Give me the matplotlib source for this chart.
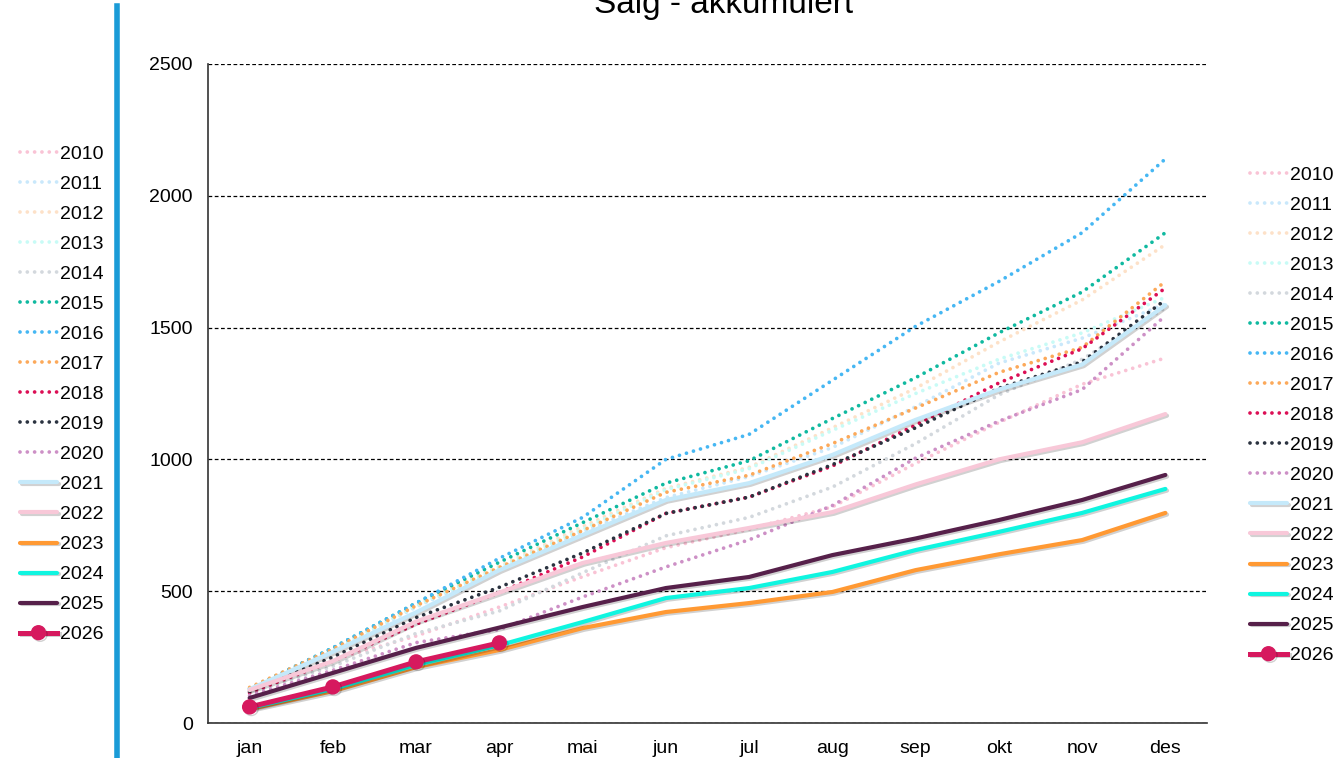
import matplotlib
matplotlib.use("Agg")
import matplotlib.pyplot as plt
import matplotlib.patheffects as pe
from matplotlib.lines import Line2D

plt.rcParams['font.family'] = ['Liberation Sans', 'DejaVu Sans']

months = ['jan', 'feb', 'mar', 'apr', 'mai', 'jun', 'jul', 'aug', 'sep', 'okt', 'nov', 'des']

# accumulated sales per year
s2010 = [115, 240, 330, 440, 555, 665, 735, 820, 985, 1140, 1285, 1385]
s2011 = [120, 270, 440, 585, 725, 855, 935, 1045, 1200, 1365, 1460, 1590]
s2012 = [125, 280, 450, 595, 745, 890, 970, 1120, 1270, 1445, 1605, 1815]
s2013 = [120, 275, 445, 590, 735, 885, 965, 1110, 1250, 1380, 1480, 1615]
s2014 = [115, 215, 340, 425, 570, 710, 780, 895, 1060, 1245, 1380, 1575]
s2015 = [130, 285, 455, 610, 760, 910, 995, 1155, 1310, 1480, 1635, 1860]
s2016 = [130, 285, 455, 625, 780, 1000, 1095, 1300, 1505, 1675, 1860, 2140]
s2017 = [135, 280, 445, 590, 730, 875, 940, 1060, 1195, 1330, 1425, 1675]
s2018 = [115, 235, 375, 495, 630, 795, 857, 975, 1130, 1290, 1420, 1650]
s2019 = [120, 250, 400, 515, 645, 795, 857, 980, 1120, 1270, 1370, 1605]
s2020 = [105, 200, 305, 355, 478, 592, 695, 825, 1005, 1145, 1265, 1545]
s2021 = [128, 270, 420, 580, 713, 846, 910, 1017, 1150, 1265, 1360, 1585]
s2022 = [125, 235, 385, 495, 607, 683, 740, 800, 905, 1000, 1065, 1172]
s2023 = [53, 121, 212, 277, 360, 421, 455, 497, 580, 640, 694, 797]
s2024 = [57, 129, 220, 295, 383, 474, 512, 573, 656, 725, 797, 888]
s2025 = [95, 190, 285, 362, 440, 512, 554, 637, 700, 770, 846, 941]
s2026 = [61, 137, 232, 304]

dotted = [
    ('2010', s2010, '#f9c3d5'),
    ('2011', s2011, '#c9e8fb'),
    ('2012', s2012, '#fde1c8'),
    ('2013', s2013, '#c8fbf6'),
    ('2014', s2014, '#d3d8dd'),
    ('2015', s2015, '#10b9a0'),
    ('2016', s2016, '#46b7f3'),
    ('2017', s2017, '#fca95a'),
    ('2018', s2018, '#dc0f55'),
    ('2019', s2019, '#2b3340'),
    ('2020', s2020, '#cd90c6'),
]
solid = [
    ('2021', s2021, '#c5e9fa'),
    ('2022', s2022, '#f8c8d8'),
    ('2023', s2023, '#ff9933'),
    ('2024', s2024, '#0ff5e0'),
    ('2025', s2025, '#56204a'),
]

fig = plt.figure(figsize=(13.4, 7.58), dpi=100)
ax = fig.add_axes([208 / 1340, 35 / 758, 999 / 1340, 659 / 758])

shadow = [pe.SimpleLineShadow(offset=(1.2, -1.2), alpha=0.18), pe.Normal()]
x = list(range(len(months)))

for name, vals, col in dotted:
    ax.plot(x, vals, color=col, lw=2.7, linestyle=(0, (0.001, 1.95)),
            dash_capstyle='round', label=name)
for name, vals, col in solid:
    ax.plot(x, vals, color=col, lw=3.0, solid_capstyle='round',
            label=name, path_effects=shadow)
ax.plot(x[:len(s2026)], s2026, color='#d6195e', lw=3.6, marker='o',
        markersize=10, label='2026', path_effects=shadow)

ax.set_xlim(-0.5, 11.5)
ax.set_ylim(0, 2500)
ax.set_xticks(x)
ax.set_xticklabels(months)
ax.set_yticks(range(0, 2501, 500))
ax.tick_params(length=0, labelsize=14, colors='black')
ax.tick_params(axis='x', pad=12)
ax.tick_params(axis='y', pad=11)
ax.yaxis.grid(True, linestyle=(0, (3, 2)), color='black', lw=0.9)
ax.set_axisbelow(True)
for side in ['top', 'right']:
    ax.spines[side].set_visible(False)
for side in ['left', 'bottom']:
    ax.spines[side].set_color('#333333')
    ax.spines[side].set_linewidth(1.2)

fig.text(724 / 1340, 745 / 758, 'Salg - akkumulert', fontsize=24,
         ha='center', va='baseline')

# blue divider line on the left
fig.add_artist(Line2D([117 / 1340, 117 / 1340], [0, 752 / 758],
                      color='#1a9bd7', lw=4, transform=fig.transFigure))

handles, labels = ax.get_legend_handles_labels()
leg_kw = dict(frameon=False, fontsize=14, handlelength=1.9, handletextpad=0.15,
              labelspacing=0.64, borderpad=0, borderaxespad=0, loc='upper left')
fig.legend(handles, labels, bbox_to_anchor=(20 / 1340, (758 - 145) / 758), **leg_kw)
fig.legend(handles, labels, bbox_to_anchor=(1250 / 1340, (758 - 166) / 758), **leg_kw)

fig.savefig('out.png', dpi=100)
